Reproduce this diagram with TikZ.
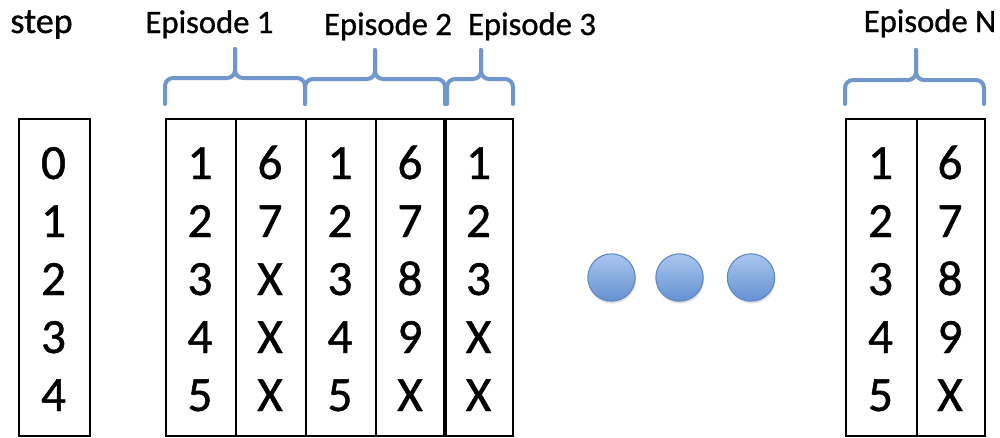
\documentclass[tikz,border=0pt]{standalone}
\usepackage{fontspec}
\setmainfont{Carlito}[FakeBold=0.9]
\usetikzlibrary{shadows}
\definecolor{bracecol}{RGB}{112,150,204}
\definecolor{dottop}{RGB}{170,198,238}
\definecolor{dotbot}{RGB}{100,145,210}
\definecolor{dotline}{RGB}{95,135,195}
\tikzset{
  colbox/.style={draw=black, line width=1.5pt, minimum height=237.75pt, inner sep=0pt, anchor=north west},
  digit/.style={anchor=base, inner sep=0pt, font=\fontsize{37}{40}\selectfont},
  eplabel/.style={anchor=base, inner sep=0pt, font=\fontsize{24.5}{28}\selectfont},
  steplabel/.style={anchor=base, inner sep=0pt, font=\fontsize{27}{30}\selectfont},
  bracepath/.style={draw=bracecol, line width=3pt, rounded corners=6pt, line cap=round},
  dot/.style={circle, minimum size=35.5pt, inner sep=0pt, draw=dotline, line width=0.8pt,
     top color=dottop, bottom color=dotbot,
     drop shadow={opacity=0.25, shadow xshift=0.6pt, shadow yshift=-1.8pt}}
}
\begin{document}
\begin{tikzpicture}[x=0.75pt,y=-0.75pt]
\useasboundingbox (0,0) rectangle (1000,437);
% labels
\node[steplabel] (lstep) at (41.5,33) {step};
\node[eplabel] (l1) at (209.5,33) {Episode 1};
\node[eplabel] (l2) at (388,35) {Episode 2};
\node[eplabel] (l3) at (532,35) {Episode 3};
\node[eplabel] (lN) at (930,32) {Episode N};
% boxes
\node[colbox, minimum width=53.25pt] (cs) at (18,118) {};
\node[colbox, minimum width=52.5pt] (c1) at (165,118) {};
\node[colbox, minimum width=52.5pt] (c2) at (235,118) {};
\node[colbox, minimum width=52.5pt] (c3) at (305,118) {};
\node[colbox, minimum width=52.5pt] (c4) at (375,118) {};
\node[colbox, minimum width=50.25pt] (c5) at (445,118) {};
\node[colbox, minimum width=53.25pt] (cN1) at (845,118) {};
\node[colbox, minimum width=51pt] (cN2) at (916,118) {};
\draw[line width=3pt] (c5.north west) -- (c5.south west);
% digits
\foreach \t [count=\i from 0] in {0,1,2,3,4}
  \node[digit] (s\i) at (53.5,{179+58*\i}) {\t};
\foreach \t [count=\i from 0] in {1,2,3,4,5}
  \node[digit] (a\i) at (200,{179+58*\i}) {\t};
\foreach \t [count=\i from 0] in {6,7,X,X,X}
  \node[digit] (b\i) at (270,{179+58*\i}) {\t};
\foreach \t [count=\i from 0] in {1,2,3,4,5}
  \node[digit] (c\i) at (340,{179+58*\i}) {\t};
\foreach \t [count=\i from 0] in {6,7,8,9,X}
  \node[digit] (d\i) at (410,{179+58*\i}) {\t};
\foreach \t [count=\i from 0] in {1,2,3,X,X}
  \node[digit] (e\i) at (478.5,{179+58*\i}) {\t};
\foreach \t [count=\i from 0] in {1,2,3,4,5}
  \node[digit] (f\i) at (880.5,{179+58*\i}) {\t};
\foreach \t [count=\i from 0] in {6,7,8,9,X}
  \node[digit] (g\i) at (950,{179+58*\i}) {\t};
% braces
\draw[bracepath] (165,104) -- (165,78) -- (235,78) -- (235,49);
\draw[bracepath] (235,49) -- (235,78) -- (305,78) -- (305,104);
\draw[bracepath] (305,104) -- (305,79) -- (375,79) -- (375,50);
\draw[bracepath] (375,50) -- (375,79) -- (445,79) -- (445,104);
\draw[bracepath] (447,104) -- (447,79) -- (481,79) -- (481,50);
\draw[bracepath] (481,50) -- (481,79) -- (513,79) -- (513,104);
\draw[bracepath] (845,104) -- (845,80) -- (916,80) -- (916,50);
\draw[bracepath] (916,50) -- (916,80) -- (984,80) -- (984,104);
% dots
\node[dot] (dot1) at (611.5,277.5) {};
\node[dot] (dot2) at (679.5,277.5) {};
\node[dot] (dot3) at (751,277.5) {};
\end{tikzpicture}
\end{document}
